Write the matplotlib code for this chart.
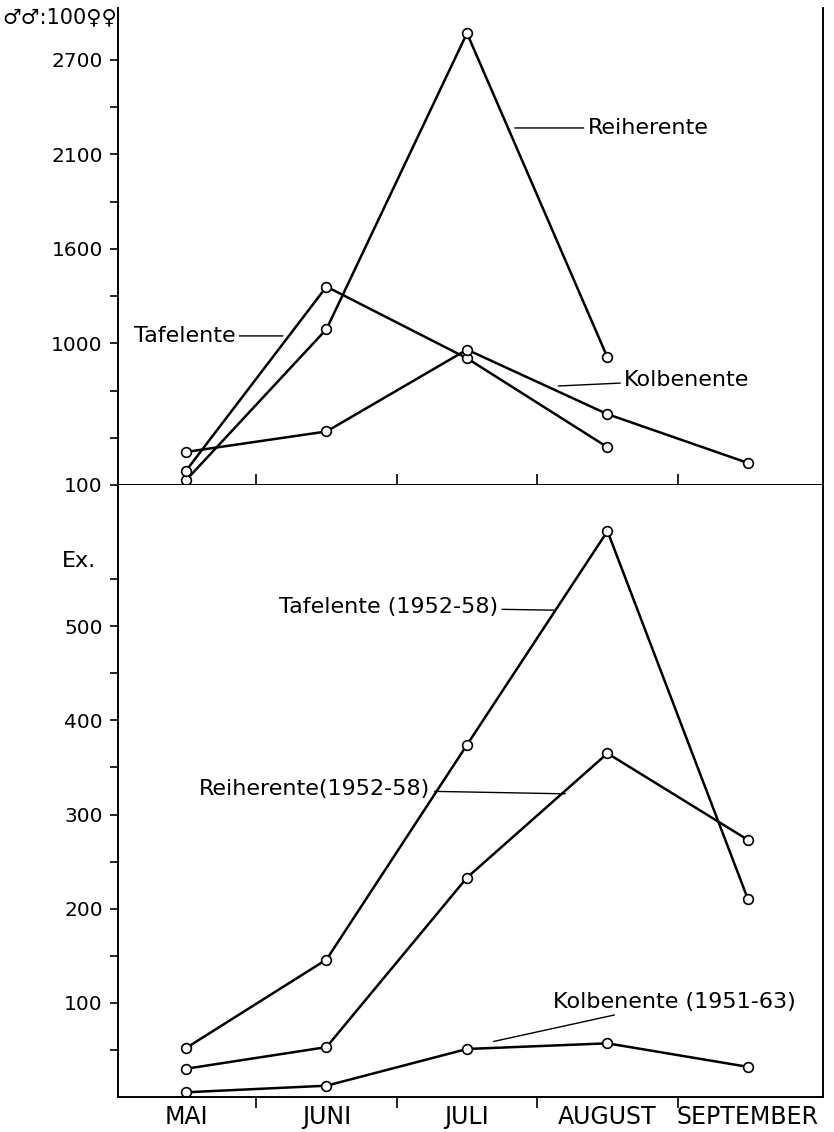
import numpy as np
import matplotlib
matplotlib.use("Agg")
import matplotlib.pyplot as plt

months = ["MAI", "JUNI", "JULI", "AUGUST", "SEPTEMBER"]

# oben: Geschlechterverhältnis (Männchen je 100 Weibchen)
ratio_reiher = [130, 1090, 2870, 910]
ratio_tafel = [190, 1360, 905, 340]
ratio_kolben = [310, 440, 960, 550, 240]
ratio_ticks = [100, 1000, 1600, 2100, 2700]

# unten: Exemplare
ex_tafel = [52, 146, 374, 601, 210]
ex_reiher = [30, 53, 233, 365, 273]
ex_kolben = [5, 12, 51, 57, 32]
ex_ticks = [100, 200, 300, 400, 500]

# the upper axis of the original is not linear: labelled ticks sit on an even grid
scale_vals = [-200, 100, 1000, 1600, 2100, 2700, 3300]
scale_pos = [-1, 0, 3, 5, 7, 9, 11]


def fwd(v):
    return np.interp(v, scale_vals, scale_pos)


def inv(p):
    return np.interp(p, scale_pos, scale_vals)


FS = 14.5
LW = 1.8
mk = dict(marker="o", markersize=7, markerfacecolor="white",
          markeredgecolor="black", markeredgewidth=1.2, color="black", lw=LW)

fig = plt.figure(figsize=(8.34, 11.32), dpi=100)
left, width = 118 / 834, 705 / 834
ax1 = fig.add_axes([left, 1 - 485 / 1132, width, 477 / 1132])
ax2 = fig.add_axes([left, 1 - 1097 / 1132, width, 612 / 1132])

x = np.arange(len(months))
xlim = (-0.484, 4.534)

# ---- upper panel
ax1.set_yscale("function", functions=(fwd, inv))
ax1.plot(x[:4], ratio_reiher, **mk)
ax1.plot(x[:4], ratio_tafel, **mk)
ax1.plot(x, ratio_kolben, **mk)
ax1.set_xlim(*xlim)
ax1.set_ylim(100, 3030)
ax1.set_yticks(ratio_ticks)
ax1.set_yticklabels([str(t) for t in ratio_ticks], fontsize=FS)
ax1.set_yticks(inv([1, 2, 4, 6, 8]), minor=True)
ax1.set_xticks(x[:-1] + 0.5)
ax1.set_xticklabels([])
ax1.tick_params(axis="x", direction="in", length=8, width=1.2)
ax1.tick_params(axis="y", which="both", direction="out", length=6, width=1.2, pad=5)
ax1.spines["top"].set_visible(False)

lbl = dict(fontsize=16, va="center")
arr = dict(arrowstyle="-", lw=1.0, color="black", shrinkA=1, shrinkB=0)
ax1.annotate("Reiherente", xy=(2.34, 2268), xytext=(2.86, 2268), ha="left",
             arrowprops=arr, **lbl)
ax1.annotate("Tafelente", xy=(0.69, 1047), xytext=(0.35, 1047), ha="right",
             arrowprops=arr, **lbl)
ax1.annotate("Kolbenente", xy=(2.65, 729), xytext=(3.12, 767), ha="left",
             arrowprops=arr, **lbl)

# ---- lower panel
ax2.plot(x, ex_tafel, **mk)
ax2.plot(x, ex_reiher, **mk)
ax2.plot(x, ex_kolben, **mk)
ax2.set_xlim(*xlim)
ax2.set_ylim(0, 650)
ax2.set_yticks(ex_ticks)
ax2.set_yticklabels([str(t) for t in ex_ticks], fontsize=FS)
ax2.set_yticks([50, 150, 250, 350, 450, 550], minor=True)
ax2.tick_params(axis="y", which="both", direction="out", length=6, width=1.2, pad=5)
ax2.set_xticks(x[:-1] + 0.5)
ax2.set_xticklabels([])
ax2.set_xticks(x, minor=True)
ax2.set_xticklabels(months, minor=True, fontsize=17)
ax2.tick_params(axis="x", which="major", direction="out", length=8, width=1.2)
ax2.tick_params(axis="x", which="minor", length=0, pad=6)
ax2.spines["top"].set_visible(False)

ax2.annotate("Tafelente (1952-58)", xy=(2.63, 517), xytext=(2.22, 520), ha="right",
             arrowprops=arr, **lbl)
ax2.annotate("Reiherente(1952-58)", xy=(2.70, 322), xytext=(1.74, 327), ha="right",
             arrowprops=arr, **lbl)
ax2.annotate("Kolbenente (1951-63)", xy=(2.19, 59), xytext=(2.61, 101), ha="left",
             arrowprops=arr, **lbl)

for ax in (ax1, ax2):
    for s in ax.spines.values():
        s.set_linewidth(1.4)

fig.text(2 / 834, 1 - 17 / 1132, "\u2642\u2642:100\u2640\u2640", fontsize=15,
         ha="left", va="center")
fig.text(62 / 834, 1 - 561 / 1132, "Ex.", fontsize=16, ha="left", va="center")

fig.savefig("out.png", dpi=100)
